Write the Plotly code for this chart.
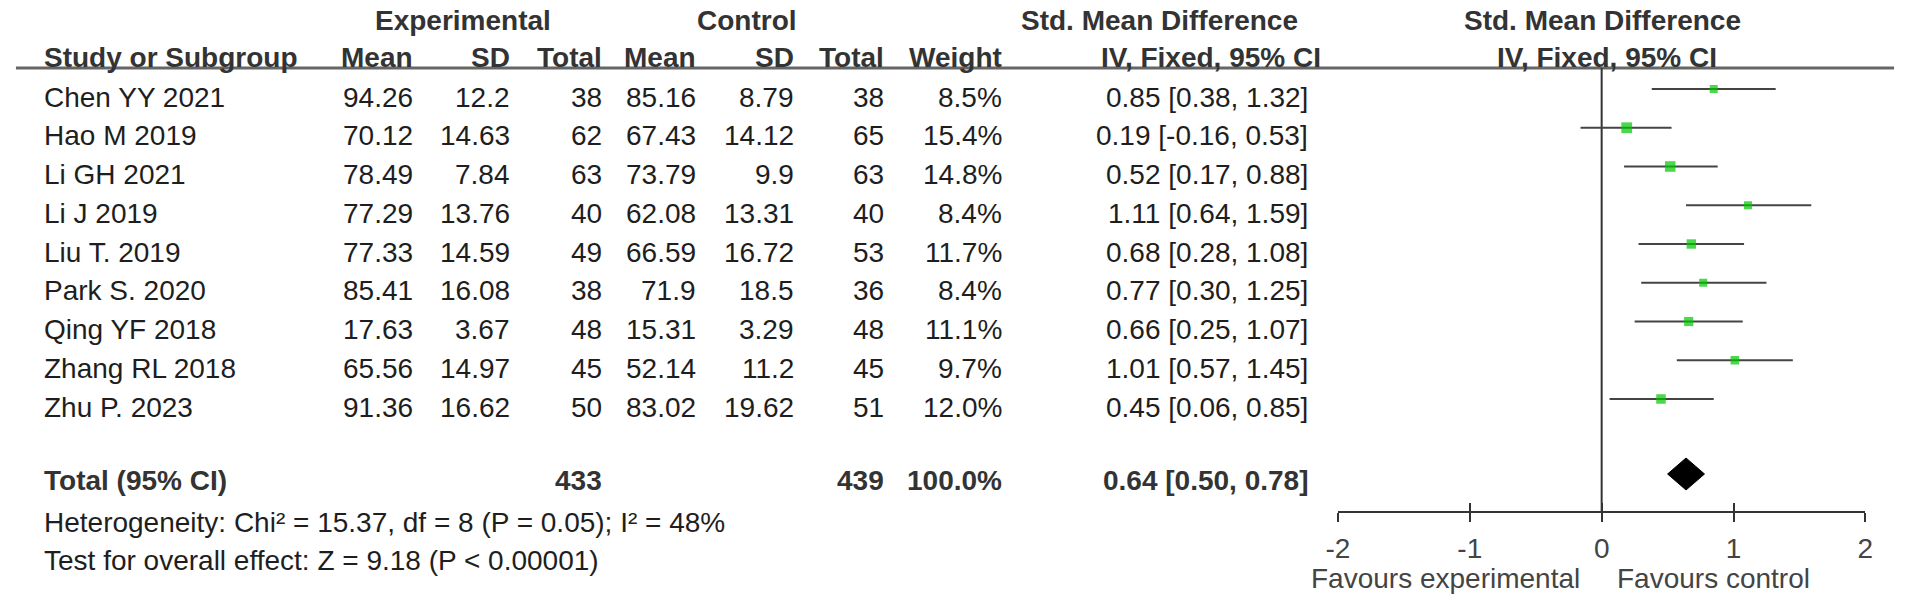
import plotly.graph_objects as go

# ---------------- data ----------------
studies = ["Chen YY 2021", "Hao M 2019", "Li GH 2021", "Li J 2019", "Liu T. 2019",
           "Park S. 2020", "Qing YF 2018", "Zhang RL 2018", "Zhu P. 2023"]
exp_mean = [94.26, 70.12, 78.49, 77.29, 77.33, 85.41, 17.63, 65.56, 91.36]
exp_sd = [12.2, 14.63, 7.84, 13.76, 14.59, 16.08, 3.67, 14.97, 16.62]
exp_n = [38, 62, 63, 40, 49, 38, 48, 45, 50]
ctl_mean = [85.16, 67.43, 73.79, 62.08, 66.59, 71.9, 15.31, 52.14, 83.02]
ctl_sd = [8.79, 14.12, 9.9, 13.31, 16.72, 18.5, 3.29, 11.2, 19.62]
ctl_n = [38, 65, 63, 40, 53, 36, 48, 45, 51]
weight = [8.5, 15.4, 14.8, 8.4, 11.7, 8.4, 11.1, 9.7, 12.0]
smd = [0.85, 0.19, 0.52, 1.11, 0.68, 0.77, 0.66, 1.01, 0.45]
ci_lo = [0.38, -0.16, 0.17, 0.64, 0.28, 0.30, 0.25, 0.57, 0.06]
ci_hi = [1.32, 0.53, 0.88, 1.59, 1.08, 1.25, 1.07, 1.45, 0.85]

total_exp_n = 433
total_ctl_n = 439
total_weight = 100.0
total_smd = 0.64
total_lo = 0.50
total_hi = 0.78

heterogeneity = "Heterogeneity: Chi² = 15.37, df = 8 (P = 0.05); I² = 48%"
overall_test = "Test for overall effect: Z = 9.18 (P < 0.00001)"

tick_vals = [-2, -1, 0, 1, 2]
tick_text = ["-2", "-1", "0", "1", "2"]
favours_left = "Favours experimental"
favours_right = "Favours control"

# ---------------- layout constants (pixels) ----------------
W, H = 1907, 600
FONT = "Liberation Sans, Arial, sans-serif"
FS = 28
TXT = "#1e1e1e"
HDR = "#333333"
GRAY = "#444444"

row0, row_step = 97.0, 38.75
row_y = [row0 + i * row_step for i in range(len(studies))]
total_y = 480
bar_off = -8
axis_y = 512
hdr1_y, hdr2_y, line_y = 20, 57, 68
x_lo_px, x_hi_px = 1340, 1873  # pixel span of -2 .. 2

col_study = 30
col_right = {
    "em": 407, "es": 505, "en": 598,
    "cm": 693, "cs": 792, "cn": 883,
    "w": 1003, "ci": 1312,
}


def px(x):
    return x / W


annotations = []


def text(x, y, s, anchor="left", bold=False, color=TXT, size=FS):
    annotations.append(dict(
        x=px(x), y=y, xref="paper", yref="y", text=("<b>%s</b>" % s) if bold else s,
        showarrow=False, xanchor=anchor, yanchor="middle",
        font=dict(family=FONT, size=size, color=color)))


# headers
text(456, hdr1_y, "Experimental", "center", True, HDR)
text(743, hdr1_y, "Control", "center", True, HDR)
text(1160, hdr1_y, "Std. Mean Difference", "center", True, HDR)
text(1607, hdr1_y, "Std. Mean Difference", "center", True, HDR)
text(col_study, hdr2_y, "Study or Subgroup", "left", True, HDR)
for key, lab in [("em", "Mean"), ("es", "SD"), ("en", "Total"), ("cm", "Mean"),
                 ("cs", "SD"), ("cn", "Total"), ("w", "Weight")]:
    text(col_right[key], hdr2_y, lab, "right", True, HDR)
text(1212, hdr2_y, "IV, Fixed, 95% CI", "center", True, HDR)
text(1612, hdr2_y, "IV, Fixed, 95% CI", "center", True, HDR)

# rows
for i, s in enumerate(studies):
    y = row_y[i]
    text(col_study, y, s)
    text(col_right["em"], y, str(exp_mean[i]), "right")
    text(col_right["es"], y, str(exp_sd[i]), "right")
    text(col_right["en"], y, str(exp_n[i]), "right")
    text(col_right["cm"], y, str(ctl_mean[i]), "right")
    text(col_right["cs"], y, str(ctl_sd[i]), "right")
    text(col_right["cn"], y, str(ctl_n[i]), "right")
    text(col_right["w"], y, "%.1f%%" % weight[i], "right")
    text(col_right["ci"], y, "%.2f [%.2f, %.2f]" % (smd[i], ci_lo[i], ci_hi[i]), "right")

# total row
text(col_study, total_y, "Total (95% CI)", "left", True, HDR)
text(col_right["en"], total_y, str(total_exp_n), "right", True, HDR)
text(col_right["cn"], total_y, str(total_ctl_n), "right", True, HDR)
text(col_right["w"], total_y, "%.1f%%" % total_weight, "right", True, HDR)
text(col_right["ci"], total_y, "%.2f [%.2f, %.2f]" % (total_smd, total_lo, total_hi), "right", True, HDR)

text(col_study, 522, heterogeneity)
text(col_study, 560, overall_test)

text(1587, 578, favours_left, "right", color=GRAY)
text(1620, 578, favours_right, "left", color=GRAY)

# ---------------- traces ----------------
fig = go.Figure()

# CI lines
ci_x, ci_y = [], []
for i in range(len(studies)):
    ci_x += [ci_lo[i], ci_hi[i], None]
    yy = row_y[i] + bar_off
    ci_y += [yy, yy, None]
fig.add_trace(go.Scatter(x=ci_x, y=ci_y, mode="lines",
                         line=dict(color="#444444", width=2.2),
                         hoverinfo="skip", showlegend=False, cliponaxis=False))

# point estimates (size ~ sqrt(weight))
sizes = [2.75 * (w ** 0.5) for w in weight]
fig.add_trace(go.Scatter(x=smd, y=[y + bar_off for y in row_y], mode="markers",
                         marker=dict(symbol="square", size=sizes, color="#00c800",
                                     line=dict(width=0)),
                         showlegend=False, cliponaxis=False))

# diamond
dy = total_y - 6
half = 16
fig.add_trace(go.Scatter(x=[total_lo, total_smd, total_hi, total_smd, total_lo],
                         y=[dy, dy - half, dy, dy + half, dy],
                         mode="lines", fill="toself", fillcolor="#000000",
                         line=dict(color="#000000", width=1),
                         showlegend=False, hoverinfo="skip"))

# invisible trace for inside-tick overlay axis
fig.add_trace(go.Scatter(x=[0], y=[axis_y], xaxis="x2", mode="markers",
                         marker=dict(opacity=0), showlegend=False, hoverinfo="skip"))

shapes = [
    dict(type="line", xref="paper", yref="y", x0=px(4), x1=px(1902), y0=line_y, y1=line_y,
         line=dict(color="#666666", width=3), layer="below"),
    dict(type="line", xref="x", yref="y", x0=0, x1=0, y0=line_y, y1=axis_y,
         line=dict(color="#333333", width=2), layer="below"),
]

dom = [px(x_lo_px), px(x_hi_px)]
axis_pos = (H - axis_y) / H

fig.update_layout(
    width=W, height=H,
    margin=dict(l=0, r=0, t=0, b=0),
    paper_bgcolor="white", plot_bgcolor="rgba(0,0,0,0)",
    font=dict(family=FONT, size=FS, color=TXT),
    xaxis=dict(domain=dom, range=[-2, 2], anchor="free", position=axis_pos,
               showgrid=False, zeroline=False, showline=True, linecolor="#333333", linewidth=2,
               ticks="outside", ticklen=9, tickwidth=2, tickcolor="#333333",
               tickvals=tick_vals, ticktext=tick_text,
               tickfont=dict(family=FONT, size=FS, color=GRAY), ticklabelstandoff=2),
    xaxis2=dict(domain=dom, range=[-2, 2], anchor="free", position=axis_pos, overlaying="x",
                showgrid=False, zeroline=False, showline=False,
                ticks="inside", ticklen=9, tickwidth=2, tickcolor="#333333",
                tickvals=tick_vals, showticklabels=False),
    yaxis=dict(domain=[0, 1], range=[H, 0], visible=False, showgrid=False, zeroline=False),
    shapes=shapes,
    annotations=annotations,
)

fig.write_html("out.html", config={"displayModeBar": False},
               post_script="document.body.style.margin='0px';")
